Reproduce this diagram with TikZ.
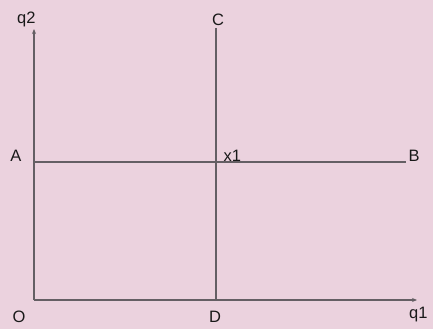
\documentclass[tikz,border=0pt]{standalone}
\usepackage{fontspec}
\setmainfont{Liberation Sans}
\usetikzlibrary{arrows.meta, positioning}
\definecolor{bgpink}{RGB}{235,210,222}
\definecolor{linegrey}{RGB}{100,95,100}

\begin{document}
\begin{tikzpicture}[
    x=1pt, y=-1pt,
    axis/.style={-{Stealth[length=5pt, width=4pt]}, line width=1.3pt, draw=linegrey},
    guide/.style={line width=1.3pt, draw=linegrey},
    lbl/.style={inner sep=0pt, font=\fontsize{16.5}{18}\selectfont, text=black!90}
]
    \fill[bgpink] (0,0) rectangle (433,329);
    \useasboundingbox (0,0) rectangle (433,329);

    % axes
    \coordinate (o) at (34,300);
    \coordinate (q1end) at (417,300);
    \coordinate (q2end) at (34,29);
    \draw[axis] (o) -- (q1end);
    \draw[axis] (o) -- (q2end);

    % guide lines
    \coordinate (a) at (34,162);
    \coordinate (b) at (406,162);
    \coordinate (c) at (216,28);
    \coordinate (d) at (216,300);
    \draw[guide] (a) -- (b);
    \draw[guide] (c) -- (d);

    % labels
    \node[lbl, anchor=base west] (q2) at (17,24) {q2};
    \node[lbl, anchor=base] (C) at (218,26) {C};
    \node[lbl, anchor=base] (A) at (16,161) {A};
    \node[lbl, anchor=base west] (x1) at (223.5,161) {x1};
    \node[lbl, anchor=base] (B) at (414,161) {B};
    \node[lbl, anchor=base] (O) at (19,322) {O};
    \node[lbl, anchor=base] (D) at (215,322) {D};
    \node[lbl, anchor=base west] (q1) at (409,318) {q1};
\end{tikzpicture}
\end{document}
